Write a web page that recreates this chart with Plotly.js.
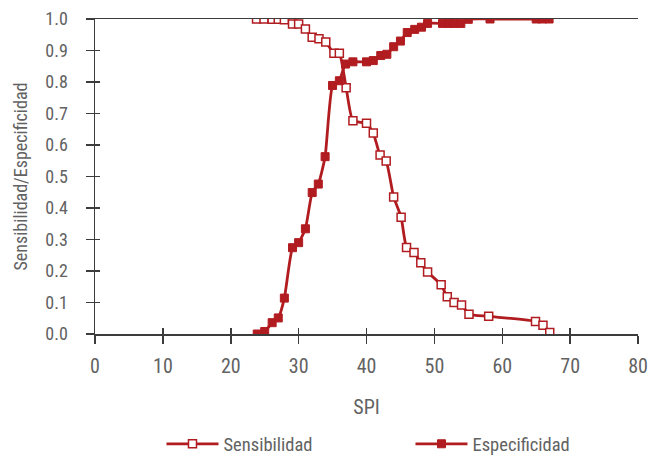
<!DOCTYPE html>
<html>
<head>
<meta charset="utf-8">
<script src="https://cdn.plot.ly/plotly-3.0.1.min.js"></script>
<style>html,body{margin:0;padding:0;background:#fff;}#chart{width:649px;height:455px;}</style>
</head>
<body>
<div id="chart"></div>
<script>
const sensX = [23.8, 24.9, 26.1, 27.0, 27.9, 29.1, 30.0, 31.0, 32.0, 33.0, 34.0, 35.2, 36.0, 37.0, 38.0, 40.0, 41.0, 42.0, 42.9, 44.0, 45.1, 45.9, 47.0, 48.0, 49.0, 51.0, 51.9, 52.9, 54.0, 55.1, 58.0, 64.9, 66.0, 67.0];
const sensY = [1.0, 1.0, 0.999, 0.999, 0.998, 0.984, 0.984, 0.968, 0.942, 0.937, 0.927, 0.891, 0.891, 0.782, 0.677, 0.669, 0.638, 0.568, 0.549, 0.435, 0.371, 0.275, 0.259, 0.226, 0.197, 0.156, 0.118, 0.100, 0.092, 0.063, 0.056, 0.040, 0.028, 0.005];
const specX = [23.9, 25.0, 26.1, 27.0, 27.9, 29.1, 30.0, 31.0, 32.0, 32.9, 33.9, 35.0, 36.0, 36.9, 38.0, 40.0, 41.0, 42.1, 43.0, 44.0, 45.0, 46.0, 47.1, 48.1, 49.0, 51.2, 52.1, 52.9, 53.9, 55.0, 58.2, 65.0, 65.9, 66.9];
const specY = [0.0, 0.008, 0.036, 0.051, 0.114, 0.274, 0.290, 0.334, 0.449, 0.476, 0.563, 0.789, 0.804, 0.857, 0.864, 0.864, 0.868, 0.884, 0.888, 0.912, 0.930, 0.957, 0.967, 0.974, 0.986, 0.986, 0.986, 0.986, 0.986, 0.999, 1.0, 1.0, 1.0, 1.0];
const seriesNames = ["Sensibilidad", "Especificidad"];
const xTitle = "SPI";
const yTitle = "Sensibilidad/Especificidad";

const RED = "#B11C20";
const TXT = "#626262";
const AX = "#3c3c3c";
const FONT = "Roboto Condensed, Liberation Sans Narrow, sans-serif";

const traces = [
  {x: sensX, y: sensY, name: seriesNames[0], type: "scatter", mode: "lines+markers",
   line: {color: RED, width: 2.8, shape: "spline", smoothing: 0.5},
   marker: {symbol: "square", size: 8, color: "#ffffff", line: {color: RED, width: 1.5}}},
  {x: specX, y: specY, name: seriesNames[1], type: "scatter", mode: "lines+markers",
   line: {color: RED, width: 2.8, shape: "spline", smoothing: 0.5},
   marker: {symbol: "square", size: 8, color: RED, line: {color: RED, width: 1}}}
];

const layout = {
  width: 649, height: 455,
  margin: {l: 95, r: 11, t: 19, b: 121, autoexpand: false},
  paper_bgcolor: "#fff", plot_bgcolor: "#fff",
  font: {family: FONT, size: 18, color: TXT},
  showlegend: true,
  legend: {orientation: "h", x: 0.581, xanchor: "center", y: -0.35, yanchor: "middle",
           font: {family: FONT, size: 18.5, color: TXT}, itemwidth: 52,
           entrywidth: 182, entrywidthmode: "pixels"},
  xaxis: {range: [0, 80], dtick: 10, tick0: 0, showgrid: false, zeroline: false,
          showline: true, linecolor: AX, linewidth: 1.5, mirror: true,
          ticks: "outside", ticklen: 8, tickcolor: AX, tickwidth: 1.5, ticklabelstandoff: 5,
          tickfont: {family: FONT, size: 20, color: TXT},
          title: {text: xTitle, standoff: 23, font: {family: FONT, size: 20, color: TXT}},
          automargin: false},
  xaxis2: {range: [0, 80], dtick: 10, tick0: 0, overlaying: "x", anchor: "y", side: "bottom",
           showgrid: false, zeroline: false, showline: false, showticklabels: false,
           ticks: "inside", ticklen: 6, tickcolor: AX, tickwidth: 1.5},
  yaxis: {range: [0, 1], dtick: 0.1, tick0: 0, tickformat: ".1f", showgrid: false, zeroline: false,
          showline: true, linecolor: AX, linewidth: 1.5,
          ticks: "outside", ticklen: 8, tickcolor: AX, tickwidth: 1.5, ticklabelstandoff: 14,
          tickfont: {family: FONT, size: 18, color: TXT},
          title: {text: yTitle, standoff: 13, font: {family: FONT, size: 18, color: TXT}},
          automargin: false},
  yaxis2: {range: [0, 1], dtick: 0.1, tick0: 0, overlaying: "y", anchor: "x", side: "left",
           showgrid: false, zeroline: false, showline: false, showticklabels: false,
           ticks: "inside", ticklen: 5, tickcolor: AX, tickwidth: 1.5}
};

const dummy = {x: [0], y: [0], xaxis: "x2", yaxis: "y2", mode: "markers", marker: {opacity: 0}, showlegend: false, hoverinfo: "skip"};

Plotly.newPlot("chart", [dummy].concat(traces), layout, {staticPlot: true, displayModeBar: false});
</script>
</body>
</html>
